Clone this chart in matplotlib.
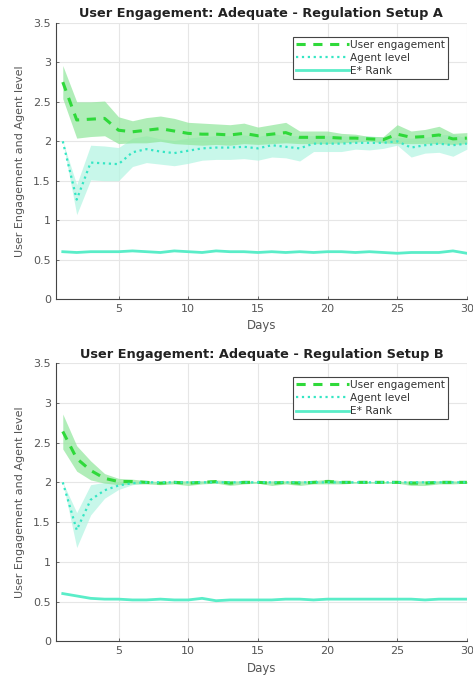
# engagement_panels.py
# Two-panel plot of user engagement / agent level / E* rank over 30 days

import numpy as np
import matplotlib
matplotlib.use("Agg")
import matplotlib.pyplot as plt

days = np.arange(1, 31)

# --- Setup A ---
ue_a = [2.75, 2.27, 2.28, 2.29, 2.14, 2.12, 2.14, 2.16, 2.13, 2.10,
        2.09, 2.09, 2.08, 2.10, 2.07, 2.09, 2.11, 2.05, 2.05, 2.05,
        2.04, 2.04, 2.03, 2.02, 2.09, 2.05, 2.06, 2.08, 2.03, 2.04]
ue_a_sd = [0.21, 0.23, 0.22, 0.22, 0.17, 0.14, 0.16, 0.16, 0.16, 0.14,
           0.14, 0.13, 0.13, 0.13, 0.11, 0.12, 0.13, 0.08, 0.08, 0.08,
           0.06, 0.05, 0.03, 0.04, 0.12, 0.08, 0.09, 0.11, 0.07, 0.07]
ag_a = [2.00, 1.26, 1.73, 1.72, 1.71, 1.86, 1.90, 1.87, 1.85, 1.88,
        1.91, 1.92, 1.92, 1.93, 1.91, 1.95, 1.93, 1.91, 1.97, 1.97,
        1.97, 1.98, 1.98, 1.98, 2.00, 1.92, 1.95, 1.97, 1.95, 1.97]
ag_a_sd = [0.00, 0.19, 0.22, 0.22, 0.21, 0.18, 0.17, 0.16, 0.16, 0.16,
           0.15, 0.15, 0.15, 0.15, 0.15, 0.15, 0.14, 0.16, 0.10, 0.10,
           0.10, 0.08, 0.09, 0.07, 0.05, 0.12, 0.10, 0.11, 0.14, 0.07]
er_a = [0.60, 0.59, 0.60, 0.60, 0.60, 0.61, 0.60, 0.59, 0.61, 0.60,
        0.59, 0.61, 0.60, 0.60, 0.59, 0.60, 0.59, 0.60, 0.59, 0.60,
        0.60, 0.59, 0.60, 0.59, 0.58, 0.59, 0.59, 0.59, 0.61, 0.58]

# --- Setup B ---
ue_b = [2.64, 2.30, 2.15, 2.05, 2.01, 2.01, 2.00, 1.99, 2.00, 1.99,
        2.00, 2.01, 1.99, 2.00, 2.00, 1.99, 2.00, 1.99, 2.00, 2.01,
        2.00, 2.00, 2.00, 2.00, 2.00, 1.99, 1.99, 2.00, 2.00, 2.00]
ue_b_sd = [0.22, 0.16, 0.12, 0.06, 0.04, 0.03, 0.02, 0.02, 0.02, 0.03,
           0.02, 0.02, 0.03, 0.02, 0.01, 0.03, 0.02, 0.03, 0.02, 0.03,
           0.02, 0.01, 0.01, 0.01, 0.01, 0.03, 0.03, 0.02, 0.02, 0.01]
ag_b = [2.00, 1.40, 1.78, 1.90, 1.96, 1.99, 2.00, 2.00, 2.00, 2.00,
        2.00, 2.00, 2.00, 2.00, 2.00, 2.00, 2.00, 2.00, 2.00, 2.00,
        2.00, 2.00, 2.00, 2.00, 2.00, 2.00, 2.00, 2.00, 2.00, 2.00]
ag_b_sd = [0.00, 0.22, 0.19, 0.10, 0.05, 0.02, 0.01, 0.01, 0.01, 0.01,
           0.01, 0.01, 0.01, 0.01, 0.01, 0.01, 0.01, 0.01, 0.01, 0.01,
           0.01, 0.01, 0.01, 0.01, 0.01, 0.01, 0.01, 0.01, 0.01, 0.01]
er_b = [0.60, 0.57, 0.54, 0.53, 0.53, 0.52, 0.52, 0.53, 0.52, 0.52,
        0.54, 0.51, 0.52, 0.52, 0.52, 0.52, 0.53, 0.53, 0.52, 0.53,
        0.53, 0.53, 0.53, 0.53, 0.53, 0.53, 0.52, 0.53, 0.53, 0.53]

titles = ["User Engagement: Adequate - Regulation Setup A",
          "User Engagement: Adequate - Regulation Setup B"]

UE_COL = "#2fd93a"
UE_FILL = "#8fe69a"
AG_COL = "#35e6c4"
AG_FILL = "#b6f5e3"
ER_COL = "#5aedc8"
GRAY = "#555555"


def draw_panel(ax, ue, ue_sd, ag, ag_sd, er, title):
    ue, ue_sd, ag, ag_sd = map(np.array, (ue, ue_sd, ag, ag_sd))
    ax.fill_between(days, ag - ag_sd, ag + ag_sd, color=AG_FILL, alpha=0.75, lw=0)
    ax.fill_between(days, ue - ue_sd, ue + ue_sd, color=UE_FILL, alpha=0.7, lw=0)
    ax.plot(days, ue, "--", color=UE_COL, lw=2.2, dashes=(3, 2.5), label="User engagement")
    ax.plot(days, ag, ":", color=AG_COL, lw=1.6, label="Agent level")
    ax.plot(days, er, "-", color=ER_COL, lw=2.0, label="E* Rank")

    ax.set_xlim(0.5, 30)
    ax.set_ylim(0, 3.5)
    ax.set_xticks([5, 10, 15, 20, 25, 30])
    ax.set_yticks(np.arange(0, 3.51, 0.5))
    ax.set_yticklabels(["0", "0.5", "1", "1.5", "2", "2.5", "3", "3.5"])
    ax.grid(True, color="#e6e6e6", lw=0.8)
    ax.set_axisbelow(True)
    for s in ("top", "right"):
        ax.spines[s].set_visible(False)
    for s in ("left", "bottom"):
        ax.spines[s].set_color("#444444")
        ax.spines[s].set_linewidth(0.8)
    ax.tick_params(labelsize=8, colors=GRAY, length=2, width=0.6, direction="in")
    ax.set_title(title, fontsize=9.3, fontweight="bold", pad=4, color="#222222")
    ax.set_xlabel("Days", fontsize=8.5, color=GRAY, labelpad=4)
    ax.set_ylabel("User Engagement and Agent level", fontsize=8, color=GRAY, labelpad=6)
    leg = ax.legend(loc="upper right", fontsize=7.6, frameon=True, fancybox=False,
                    edgecolor="#444444", framealpha=1, handlelength=5.0,
                    handletextpad=0.1, labelspacing=0.3, borderpad=0.3,
                    bbox_to_anchor=(0.968, 0.97))
    leg.get_frame().set_linewidth(0.8)
    for t in leg.get_texts():
        t.set_color("#333333")


fig = plt.figure(figsize=(4.73, 6.75), dpi=100)
ax1 = fig.add_axes([0.118, 0.557, 0.869, 0.409])
ax2 = fig.add_axes([0.118, 0.050, 0.869, 0.412])

draw_panel(ax1, ue_a, ue_a_sd, ag_a, ag_a_sd, er_a, titles[0])
draw_panel(ax2, ue_b, ue_b_sd, ag_b, ag_b_sd, er_b, titles[1])

fig.savefig("out.png", dpi=100)
